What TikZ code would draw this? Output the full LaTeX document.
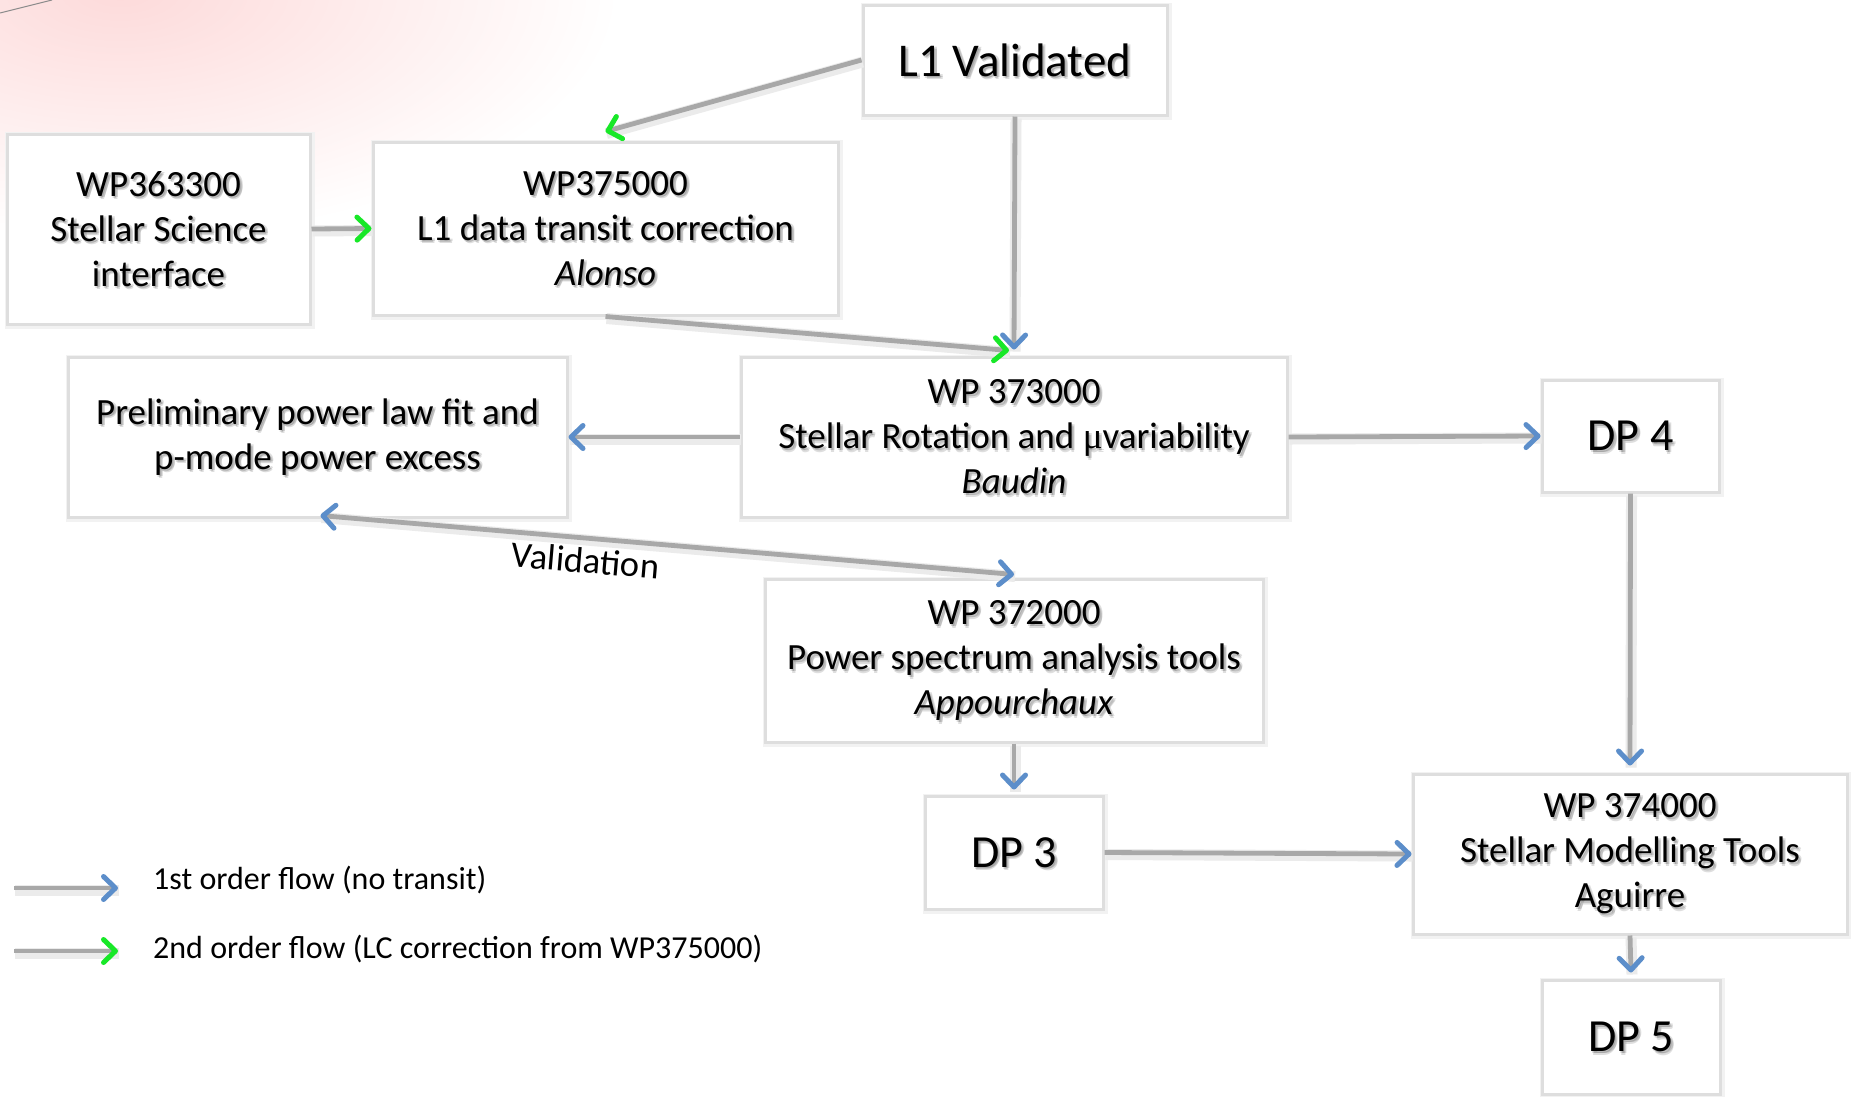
\documentclass[tikz,border=0pt]{standalone}
\usepackage{fontspec}
\setmainfont{Carlito}
\newfontfamily\mufont{Liberation Serif}
\usetikzlibrary{arrows.meta,calc}

\definecolor{tipblue}{RGB}{92,142,202}
\definecolor{tipgreen}{RGB}{24,232,40}
\definecolor{flowgray}{RGB}{168,168,168}
\definecolor{framegray}{RGB}{222,222,222}
\definecolor{hazepink}{RGB}{253,218,218}

\newcommand\boxfont{\fontsize{37}{45}\selectfont}
\newcommand\titlefont{\fontsize{47}{56}\selectfont}
\newcommand\dpfont{\fontsize{46}{55}\selectfont}
\newcommand\legfont{\fontsize{32}{39}\selectfont}
\newcommand\lblfont{\fontsize{36.5}{44}\selectfont}

\tikzset{
  wpframe/.style={rectangle, draw=framegray, line width=3pt, fill=white, inner sep=0pt,
    preaction={draw=black!5, line width=7pt, transform canvas={shift={(1pt,-1.5pt)}}}},
  shadowtxt/.style={text=black, opacity=0.13, align=center, inner sep=0pt},
  boxtxt/.style={text=black, align=center, inner sep=0pt},
  flowline/.style={draw=flowgray, line width=4.8pt,
    preaction={draw=black!8, line width=11pt, -, transform canvas={shift={(1pt,-2pt)}}}},
  bluetip/.tip={Straight Barb[length=12pt,width=23pt,line width=5pt,round,color=tipblue]},
  greentip/.tip={Straight Barb[length=12pt,width=23pt,line width=5pt,round,color=tipgreen]},
  blueflow/.style={flowline, -bluetip},
  greenflow/.style={flowline, -greentip},
  bothflow/.style={flowline, bluetip-bluetip},
}

% box with a soft drop shadow under its text
% #1 name, #2 centre, #3 width, #4 height, #5 font, #6 text
\newcommand\wpbox[6]{%
  \node[wpframe, minimum width=#3pt, minimum height=#4pt] (#1) at #2 {};
  \node[shadowtxt, font=#5] (#1-sa) at ([shift={(1pt,-2pt)}]#1) {#6};
  \node[shadowtxt, font=#5] (#1-sb) at ([shift={(2.5pt,-3.5pt)}]#1) {#6};
  \node[shadowtxt, font=#5] (#1-sc) at ([shift={(3pt,-1.5pt)}]#1) {#6};
  \node[boxtxt, font=#5] (#1-t) at (#1) {#6};
}

\begin{document}
\begin{tikzpicture}[x=1pt, y=-1pt]
\useasboundingbox (0,0) rectangle (1851,1096);
\fill[white] (0,0) rectangle (1851,1096);

% faint pink glow and thin rule in the top-left corner
\begin{scope}
  \clip (0,0) rectangle (1851,1096);
  \shade[inner color=hazepink, outer color=white] (120,-10) ellipse [x radius=500, y radius=250];
  \draw[black!45, line width=1pt] (0,13) -- (52,0);
\end{scope}

% boxes
\wpbox{l1}{(1015,60)}{304}{110}{\titlefont}{L1 Validated}
\wpbox{wp363}{(158.5,229)}{303}{190}{\boxfont}{WP363300\\Stellar Science\\interface}
\wpbox{wp375}{(605.5,228.5)}{465}{173}{\boxfont}{WP375000\\L1 data transit correction\\\textit{Alonso}}
\wpbox{prelim}{(317.5,437)}{499}{160}{\boxfont}{Preliminary power law fit and\\p-mode power excess}
\wpbox{wp373}{(1014,437)}{546}{160}{\boxfont}{WP 373000\\Stellar Rotation and {\mufont μ}variability\\\textit{Baudin}}
\wpbox{dp4}{(1630.5,436)}{177}{112}{\dpfont}{DP 4}
\wpbox{wp372}{(1014,660.5)}{498}{163}{\boxfont}{WP 372000\\Power spectrum analysis tools\\\textit{Appourchaux}}
\wpbox{dp3}{(1014,852.5)}{178}{113}{\dpfont}{DP 3}
\wpbox{wp374}{(1630,854)}{434}{160}{\boxfont}{WP 374000\\Stellar Modelling Tools\\Aguirre}
\wpbox{dp5}{(1631,1037)}{178}{114}{\dpfont}{DP 5}

% flows
\draw[greenflow] (l1.west) -- ([yshift=9pt]wp375.north);
\draw[blueflow] (l1.south) -- ([yshift=6pt]wp373.north);
\draw[greenflow] (wp375.south) -- ([xshift=-5pt,yshift=5pt]wp373.north);
\draw[greenflow] (wp363.east) -- (wp375.west);
\draw[blueflow] (wp373.west) -- (prelim.east);
\draw[blueflow] (wp373.east) -- (dp4.west);
\draw[bothflow] ([xshift=3pt,yshift=3pt]prelim.south) --
  node[sloped, below=7pt, pos=0.385, font=\lblfont, inner sep=0pt] (valid) {Validation}
  ([yshift=3pt]wp372.north);
\draw[blueflow] (wp372.south) -- ([yshift=5pt]dp3.north);
\draw[blueflow] (dp4.south) -- ([yshift=7pt]wp374.north);
\draw[blueflow] (dp3.east) -- (wp374.west);
\draw[blueflow] (wp374.south) -- ([yshift=6pt]dp5.north);

% legend
\coordinate (lg1a) at (14,888);
\coordinate (lg1b) at (118,888);
\coordinate (lg2a) at (14,951);
\coordinate (lg2b) at (118,951);
\draw[blueflow] (lg1a) -- (lg1b);
\draw[greenflow] (lg2a) -- (lg2b);
\node[anchor=west, font=\legfont, inner sep=0pt] (leg1) at (153,880) {1st order flow (no transit)};
\node[anchor=west, font=\legfont, inner sep=0pt] (leg2) at (153,949) {2nd order flow (LC correction from WP375000)};
\end{tikzpicture}
\end{document}
